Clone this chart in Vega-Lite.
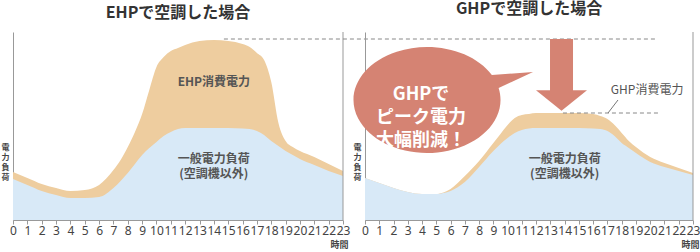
{
  "$schema": "https://vega.github.io/schema/vega-lite/v6.json",
  "padding": {"left": 1, "top": 0, "right": 0, "bottom": 0},
  "bounds": "flush",
  "spacing": 22,
  "config": {
    "view": {"stroke": null},
    "font": "Noto Sans CJK JP",
    "title": {"fontSize": 16, "fontWeight": "bold", "color": "#333333", "offset": 11, "baseline": "bottom", "font": "Noto Sans CJK JP"},
    "axisY": {"labels": false, "ticks": false, "grid": false, "domainColor": "#999999", "titleAngle": 0, "titleFontSize": 8, "titleFontWeight": "bold", "titleColor": "#444444", "titleAlign": "center", "titleBaseline": "top", "titleLineHeight": 10, "titleX": -8, "titleY": 111}
  },
  "datasets": {
    "ehp": [
      {"h": 0, "load": 41, "total": 48},
      {"h": 1, "load": 35, "total": 42},
      {"h": 2, "load": 29, "total": 36},
      {"h": 3, "load": 25, "total": 32},
      {"h": 4, "load": 22, "total": 29},
      {"h": 5, "load": 22, "total": 30},
      {"h": 6, "load": 23, "total": 35},
      {"h": 7, "load": 32, "total": 50},
      {"h": 7.5, "load": 39, "total": 60},
      {"h": 8, "load": 47, "total": 73},
      {"h": 8.5, "load": 56, "total": 88},
      {"h": 9, "load": 65, "total": 106},
      {"h": 9.5, "load": 72, "total": 130},
      {"h": 10, "load": 78, "total": 153},
      {"h": 10.5, "load": 84, "total": 163},
      {"h": 11, "load": 88, "total": 169},
      {"h": 11.5, "load": 91, "total": 172},
      {"h": 12, "load": 92, "total": 175},
      {"h": 13, "load": 92, "total": 179},
      {"h": 14, "load": 92, "total": 180},
      {"h": 15, "load": 92, "total": 179},
      {"h": 16, "load": 91.5, "total": 176},
      {"h": 16.5, "load": 91, "total": 173},
      {"h": 17, "load": 89, "total": 167},
      {"h": 17.5, "load": 85, "total": 160},
      {"h": 18, "load": 79, "total": 138},
      {"h": 18.5, "load": 74, "total": 97},
      {"h": 19, "load": 69, "total": 79},
      {"h": 19.5, "load": 65, "total": 73},
      {"h": 20, "load": 61, "total": 69},
      {"h": 21, "load": 55, "total": 63},
      {"h": 22, "load": 49, "total": 56},
      {"h": 23, "load": 44, "total": 49}
    ],
    "ghp": [
      {"h": 0, "load": 42, "total": 42},
      {"h": 1, "load": 37, "total": 37},
      {"h": 2, "load": 32, "total": 32},
      {"h": 3, "load": 28, "total": 28},
      {"h": 4, "load": 26, "total": 26},
      {"h": 5, "load": 26, "total": 26},
      {"h": 5.5, "load": 27, "total": 27.5},
      {"h": 6, "load": 29, "total": 31},
      {"h": 7, "load": 38, "total": 44},
      {"h": 8, "load": 53, "total": 59},
      {"h": 9, "load": 69, "total": 77},
      {"h": 9.5, "load": 76, "total": 86},
      {"h": 10, "load": 82, "total": 95},
      {"h": 10.5, "load": 87, "total": 102},
      {"h": 11, "load": 90, "total": 105},
      {"h": 11.5, "load": 91.5, "total": 106},
      {"h": 12, "load": 92, "total": 107},
      {"h": 13, "load": 92, "total": 107},
      {"h": 14, "load": 92, "total": 107},
      {"h": 15, "load": 92, "total": 107},
      {"h": 16, "load": 91.5, "total": 106},
      {"h": 16.5, "load": 91, "total": 104},
      {"h": 17, "load": 89, "total": 101},
      {"h": 17.5, "load": 84, "total": 95},
      {"h": 18, "load": 77, "total": 87},
      {"h": 18.5, "load": 72, "total": 79},
      {"h": 19, "load": 67, "total": 73},
      {"h": 20, "load": 58, "total": 63},
      {"h": 21, "load": 53, "total": 57},
      {"h": 22, "load": 49, "total": 52},
      {"h": 23, "load": 45, "total": 47}
    ]
  },
  "hconcat": [
    {
      "width": 330,
      "height": 188,
      "title": {"text": "EHPで空調した場合"},
      "layer": [
        {
          "data": {"name": "ehp"},
          "mark": {"type": "area", "interpolate": "monotone", "color": "#EECD9F", "opacity": 1},
          "encoding": {
            "x": {"field": "h", "type": "quantitative", "scale": {"domain": [0, 23], "nice": false, "zero": false}, "axis": {"title": "時間", "titleX": 326, "titleY": 24, "titleAlign": "center", "titleBaseline": "middle", "titleFontSize": 9, "titleFontWeight": "bold", "titleColor": "#444444", "values": [0,1,2,3,4,5,6,7,8,9,10,11,12,13,14,15,16,17,18,19,20,21,22,23], "tickCount": 30, "format": "d", "labelFont": "Noto Sans", "labelFontSize": 12, "labelColor": "#444444", "labelOverlap": false, "labelFlush": false, "labelPadding": 1, "tickSize": 4, "tickColor": "#999999", "domainColor": "#999999", "grid": false}},
            "y": {"field": "total", "type": "quantitative", "scale": {"domain": [0, 188], "nice": false}, "axis": {"title": ["電", "力", "負", "荷"]}}
          }
        },
        {
          "data": {"name": "ehp"},
          "mark": {"type": "area", "interpolate": "monotone", "color": "#D8E9F7", "opacity": 1},
          "encoding": {
            "x": {"field": "h", "type": "quantitative"},
            "y": {"field": "load", "type": "quantitative"}
          }
        },
        {
          "data": {"values": [{"h": 23}]},
          "mark": {"type": "rule", "color": "#999999", "strokeWidth": 1},
          "encoding": {"x": {"field": "h", "type": "quantitative"}}
        },
        {
          "data": {"values": [{"a": 14.7, "b": 44.9, "v": 181}]},
          "mark": {"type": "rule", "color": "#888888", "strokeDash": [4, 3], "strokeWidth": 1},
          "encoding": {
            "x": {"field": "a", "type": "quantitative"},
            "x2": {"field": "b"},
            "y": {"field": "v", "type": "quantitative"}
          }
        },
        {
          "data": {"values": [{"h": 14, "v": 138, "t": "EHP消費電力"}]},
          "mark": {"type": "text", "fontSize": 12, "fontWeight": "bold", "color": "#555555"},
          "encoding": {
            "x": {"field": "h", "type": "quantitative"},
            "y": {"field": "v", "type": "quantitative"},
            "text": {"field": "t"}
          }
        },
        {
          "data": {"values": [{"h": 14, "v": 61.5, "t": "一般電力負荷"}, {"h": 14, "v": 46.5, "t": "(空調機以外)"}]},
          "mark": {"type": "text", "fontSize": 12, "fontWeight": "bold", "color": "#555555"},
          "encoding": {
            "x": {"field": "h", "type": "quantitative"},
            "y": {"field": "v", "type": "quantitative"},
            "text": {"field": "t"}
          }
        }
      ]
    },
    {
      "width": 328,
      "height": 188,
      "title": {"text": "GHPで空調した場合"},
      "layer": [
        {
          "data": {"name": "ghp"},
          "mark": {"type": "area", "interpolate": "monotone", "color": "#EECD9F", "opacity": 1},
          "encoding": {
            "x": {"field": "h", "type": "quantitative", "scale": {"domain": [0, 23], "nice": false, "zero": false}, "axis": {"title": "時間", "titleX": 325, "titleY": 24, "titleAlign": "center", "titleBaseline": "middle", "titleFontSize": 9, "titleFontWeight": "bold", "titleColor": "#444444", "values": [0,1,2,3,4,5,6,7,8,9,10,11,12,13,14,15,16,17,18,19,20,21,22,23], "tickCount": 30, "format": "d", "labelFont": "Noto Sans", "labelFontSize": 12, "labelColor": "#444444", "labelOverlap": false, "labelFlush": false, "labelPadding": 1, "tickSize": 4, "tickColor": "#999999", "domainColor": "#999999", "grid": false}},
            "y": {"field": "total", "type": "quantitative", "scale": {"domain": [0, 188], "nice": false}, "axis": {"title": ["電", "力", "負", "荷"]}}
          }
        },
        {
          "data": {"name": "ghp"},
          "mark": {"type": "area", "interpolate": "monotone", "color": "#D8E9F7", "opacity": 1},
          "encoding": {
            "x": {"field": "h", "type": "quantitative"},
            "y": {"field": "load", "type": "quantitative"}
          }
        },
        {
          "data": {"values": [{"h": 23}]},
          "mark": {"type": "rule", "color": "#999999", "strokeWidth": 1},
          "encoding": {"x": {"field": "h", "type": "quantitative"}}
        },
        {
          "data": {"values": [{"a": 13.88, "b": 20.55, "v": 107}]},
          "mark": {"type": "rule", "color": "#888888", "strokeDash": [4, 3], "strokeWidth": 1},
          "encoding": {
            "x": {"field": "a", "type": "quantitative"},
            "x2": {"field": "b"},
            "y": {"field": "v", "type": "quantitative"}
          }
        },
        {
          "data": {"values": [{"a": 17.04, "b": 17.74, "v": 107, "v2": 120}]},
          "mark": {"type": "rule", "color": "#777777", "strokeWidth": 1},
          "encoding": {
            "x": {"field": "a", "type": "quantitative"},
            "x2": {"field": "b"},
            "y": {"field": "v", "type": "quantitative"},
            "y2": {"field": "v2"}
          }
        },
        {
          "data": {"values": [{"h": 19.78, "v": 130, "t": "GHP消費電力"}]},
          "mark": {"type": "text", "fontSize": 12, "color": "#555555"},
          "encoding": {
            "x": {"field": "h", "type": "quantitative"},
            "y": {"field": "v", "type": "quantitative"},
            "text": {"field": "t"}
          }
        },
        {
          "data": {"values": [{"h": 14, "v": 61.5, "t": "一般電力負荷"}, {"h": 14, "v": 46.5, "t": "(空調機以外)"}]},
          "mark": {"type": "text", "fontSize": 12, "fontWeight": "bold", "color": "#555555"},
          "encoding": {
            "x": {"field": "h", "type": "quantitative"},
            "y": {"field": "v", "type": "quantitative"},
            "text": {"field": "t"}
          }
        },
        {
          "data": {"values": [{"h": 13.78, "v": 181, "v2": 127}]},
          "mark": {"type": "rule", "color": "#D58373", "strokeWidth": 23, "strokeCap": "butt"},
          "encoding": {
            "x": {"field": "h", "type": "quantitative"},
            "y": {"field": "v", "type": "quantitative"},
            "y2": {"field": "v2"}
          }
        },
        {
          "data": {"values": [{"h": 13.78, "v": 119.5}]},
          "mark": {"type": "point", "shape": "M-1,-0.4L1,-0.4L0,0.4Z", "filled": true, "color": "#D58373", "opacity": 1, "size": 2601, "strokeWidth": 0},
          "encoding": {
            "x": {"field": "h", "type": "quantitative"},
            "y": {"field": "v", "type": "quantitative"}
          }
        },
        {
          "data": {"values": [{"h": 4.35, "v": 120}]},
          "mark": {"type": "point", "shape": "M0.882,-0.34L1.442,-0.381L0.974,-0.163A1,0.721,0,1,1,0.882,-0.34Z", "filled": true, "color": "#D58373", "opacity": 1, "size": 21609, "strokeWidth": 0},
          "encoding": {
            "x": {"field": "h", "type": "quantitative"},
            "y": {"field": "v", "type": "quantitative"}
          }
        },
        {
          "data": {"values": [{"h": 3.93, "v": 125, "t": "GHPで\nピーク電力\n大幅削減！"}]},
          "mark": {"type": "text", "fontSize": 18, "fontWeight": "bold", "color": "#FFFFFF", "lineBreak": "\n", "lineHeight": 23, "baseline": "middle"},
          "encoding": {
            "x": {"field": "h", "type": "quantitative"},
            "y": {"field": "v", "type": "quantitative"},
            "text": {"field": "t"}
          }
        }
      ]
    }
  ]
}
